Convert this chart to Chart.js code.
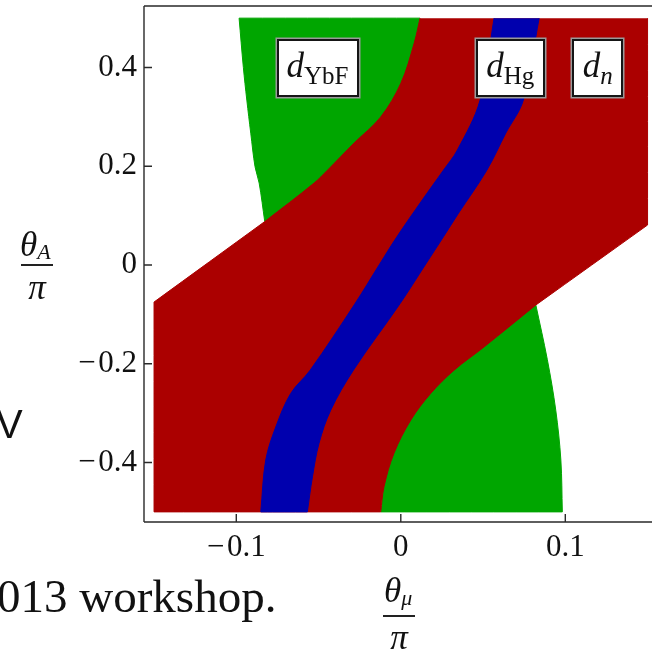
<!DOCTYPE html>
<html>
<head>
<meta charset="utf-8">
<script src="https://cdn.jsdelivr.net/npm/chart.js@4.4.1/dist/chart.umd.min.js"></script>
<style>
html,body{margin:0;padding:0;background:#fff;overflow:hidden;}
#wrap{position:relative;width:652px;height:651px;overflow:hidden;}
#c{position:absolute;left:0;top:0;}
.t{position:absolute;font-family:"Liberation Serif","Times New Roman",serif;color:#111;white-space:nowrap;}
.box{position:absolute;box-sizing:border-box;background:#fff;border:2px solid #151515;box-shadow:0 0 0 1.5px #9a9a9a;}
.bar{position:absolute;height:2px;background:#222;}
</style>
</head>
<body>
<div id="wrap"><canvas id="c" width="652" height="651"></canvas></div>
<script>
// ---------------- data ----------------
// tick values and labels
const xTickValues = [-0.1, 0, 0.1];
const xTickLabels = ["\u2212\u200a0.1", "0", "0.1"];
const yTickValues = [-0.4, -0.2, 0, 0.2, 0.4];
const yTickLabels = ["\u2212\u200a0.4", "\u2212\u200a0.2", "0", "0.2", "0.4"];

// allowed region from d_YbF (green), polygon [theta_mu/pi, theta_A/pi]
const ybfRegion = [
  [0.0117, 0.5], [-0.0983, 0.5], [-0.0957, 0.40], [-0.0936, 0.334],
  [-0.0912, 0.267], [-0.0886, 0.199], [-0.0861, 0.166], [-0.0827, 0.088],
  [0.0821, -0.081], [0.0891, -0.192], [0.0942, -0.294], [0.0973, -0.395],
  [0.0982, -0.5], [-0.0122, -0.5]
];
const ybfCorners = [0, 1, 7, 8, 12, 13];
// allowed region from d_n (red)
const nRegion = [
  [0.0117, 0.5], [0.0081, 0.449], [0.0, 0.368], [-0.0122, 0.300],
  [-0.0284, 0.247], [-0.0446, 0.192], [-0.0527, 0.166], [-0.0827, 0.088],
  [-0.15, -0.075], [-0.15, -0.5],
  [-0.0122, -0.5], [-0.0102, -0.449], [-0.0041, -0.381], [0.0061, -0.314],
  [0.0182, -0.260], [0.0324, -0.213], [0.0506, -0.166], [0.0821, -0.081],
  [0.15, 0.081], [0.15, 0.5]
];
const nCorners = [0, 7, 8, 9, 10, 17, 18, 19];
// allowed band from d_Hg (blue)
const hgRegion = [
  [0.0567, 0.5], [0.0482, 0.334], [0.0344, 0.233], [0.0259, 0.192],
  [0.0131, 0.132], [-0.0024, 0.057], [-0.0132, 0.0], [-0.0278, -0.078],
  [-0.0551, -0.213], [-0.0669, -0.260], [-0.076, -0.328], [-0.0821, -0.395],
  [-0.0851, -0.5],
  [-0.0568, -0.5], [-0.0537, -0.429], [-0.0497, -0.361], [-0.0426, -0.294],
  [-0.0288, -0.213], [-0.0004, -0.078], [0.0148, 0.0], [0.0259, 0.057],
  [0.0351, 0.105], [0.0523, 0.192], [0.0638, 0.267], [0.0745, 0.334],
  [0.0841, 0.5]
];
const hgCorners = [0, 12, 13, 25];
// region labels (subscripts) and their anchor in data coordinates
const labelSubs = ["YbF", "Hg", "n"];
const labelX = [-0.0506, 0.0666, 0.1197];
const labelY = [0.4, 0.4, 0.4];

// ---------------- styles ----------------
const GREEN = "#00a600", RED = "#ab0000", BLUE = "#0000ae";
const AXIS = "#2a2a2a";
const boxW = [82, 69, 51], boxH = 58;
const subItalic = [false, false, true];

// corners are given twice so the smoothed outline keeps them sharp
function toPts(arr, corners) {
  const out = [];
  arr.forEach(([x, y], i) => {
    out.push({x, y});
    if (corners.includes(i)) out.push({x, y});
  });
  return out;
}
function region(label, arr, corners, color, order) {
  return {label, data: toPts(arr, corners), showLine: true, fill: 'shape',
    backgroundColor: color, borderColor: color, borderWidth: 1,
    pointRadius: 0, pointHoverRadius: 0, tension: 0.35, order};
}

const framePlugin = {
  id: 'frame',
  afterDraw(chart) {
    const {ctx, chartArea: a, scales: {x, y}} = chart;
    ctx.save();
    ctx.strokeStyle = AXIS; ctx.lineWidth = 1.4; ctx.lineCap = 'butt';
    ctx.beginPath();
    ctx.moveTo(a.left, a.top); ctx.lineTo(a.right, a.top);
    ctx.moveTo(a.left, a.top); ctx.lineTo(a.left, a.bottom);
    ctx.moveTo(a.left, a.bottom); ctx.lineTo(a.right, a.bottom);
    yTickValues.forEach(v => { const p = y.getPixelForValue(v); ctx.moveTo(a.left, p); ctx.lineTo(a.left + 8, p); });
    xTickValues.forEach(v => { const p = x.getPixelForValue(v); ctx.moveTo(p, a.bottom); ctx.lineTo(p, a.bottom - 8); });
    ctx.stroke();
    ctx.restore();
  }
};

const tickFont = {family: "'Liberation Serif', serif", size: 31};
const chart = new Chart(document.getElementById('c'), {
  type: 'scatter',
  data: {datasets: [
    region('d_Hg', hgRegion, hgCorners, BLUE, 1),
    region('d_n', nRegion, nCorners, RED, 2),
    region('d_YbF', ybfRegion, ybfCorners, GREEN, 3)
  ]},
  options: {
    responsive: false, animation: false, devicePixelRatio: 1,
    layout: {padding: {top: 6, left: 0, right: 0, bottom: 0}},
    plugins: {legend: {display: false}, tooltip: {enabled: false}},
    events: [],
    scales: {
      x: {
        type: 'linear', min: -0.1561, max: 0.1527,
        afterFit(s) { s.height = 129; s.paddingLeft = 0; s.paddingRight = 0; },
        afterBuildTicks(s) { s.ticks = xTickValues.map(v => ({value: v})); },
        ticks: {callback: (v, i) => xTickLabels[i], font: tickFont, color: '#111', padding: 7, maxRotation: 0, autoSkip: false},
        grid: {display: false, drawTicks: false}, border: {display: false}
      },
      y: {
        type: 'linear', min: -0.5205, max: 0.5246,
        afterFit(s) { s.width = 144; s.paddingTop = 0; s.paddingBottom = 0; },
        afterBuildTicks(s) { s.ticks = yTickValues.map(v => ({value: v})); },
        ticks: {callback: (v, i) => yTickLabels[i], font: tickFont, color: '#111', padding: 7, autoSkip: false},
        grid: {display: false, drawTicks: false}, border: {display: false}
      }
    }
  },
  plugins: [framePlugin]
});

// ---------------- HTML text overlays ----------------
const wrap = document.getElementById('wrap');
const ASC = 0.8375; // baseline offset for line-height = font-size (Liberation)
function addText(parent, html, fs, x, baseline, align, extra) {
  const el = document.createElement('div');
  el.className = 't';
  el.innerHTML = html;
  el.style.fontSize = fs + 'px';
  el.style.lineHeight = fs + 'px';
  el.style.top = (baseline - ASC * fs) + 'px';
  if (align === 'center') { el.style.left = x + 'px'; el.style.transform = 'translateX(-50%)'; }
  else if (align === 'right') { el.style.right = (652 - x) + 'px'; }
  else { el.style.left = x + 'px'; }
  if (extra) Object.assign(el.style, extra);
  parent.appendChild(el);
  return el;
}

// region labels in boxes
const xs = chart.scales.x, ys = chart.scales.y;
labelSubs.forEach((sub, i) => {
  const cx = xs.getPixelForValue(labelX[i]);
  const cy = ys.getPixelForValue(labelY[i]);
  const b = document.createElement('div');
  b.className = 'box';
  b.style.left = (cx - boxW[i] / 2) + 'px';
  b.style.top = (cy - boxH / 2) + 'px';
  b.style.width = boxW[i] + 'px';
  b.style.height = boxH + 'px';
  wrap.appendChild(b);
  const subHtml = subItalic[i] ? '<i>' + sub + '</i>' : sub;
  addText(wrap, '<i>d</i><span style="font-size:25px;position:relative;top:7px">' + subHtml + '</span>',
          35, cx, cy + 9.5, 'center');
});

// y-axis title  theta_A / pi
addText(wrap, '<i>\u03b8</i><span style="font-size:22px;position:relative;top:3px"><i>A</i></span>', 35, 20, 256, 'left');
const by = document.createElement('div'); by.className = 'bar';
Object.assign(by.style, {left: '21px', top: '264px', width: '32px'}); wrap.appendChild(by);
addText(wrap, '<i>\u03c0</i>', 35, 37, 299, 'center');

// x-axis title  theta_mu / pi
addText(wrap, '<i>\u03b8</i><span style="font-size:22px;position:relative;top:3px"><i>\u03bc</i></span>', 35, 384, 602, 'left');
const bx = document.createElement('div'); bx.className = 'bar';
Object.assign(bx.style, {left: '383px', top: '615px', width: '32px'}); wrap.appendChild(bx);
addText(wrap, '<i>\u03c0</i>', 35, 399, 649, 'center');

// fragments of the surrounding page
addText(wrap, 'V', 40, -4, 437, 'left', {fontFamily: "'Liberation Sans', Arial, sans-serif", color: '#111'});
addText(wrap, '013 workshop.', 47, -3, 612, 'left');
</script>
</body>
</html>
